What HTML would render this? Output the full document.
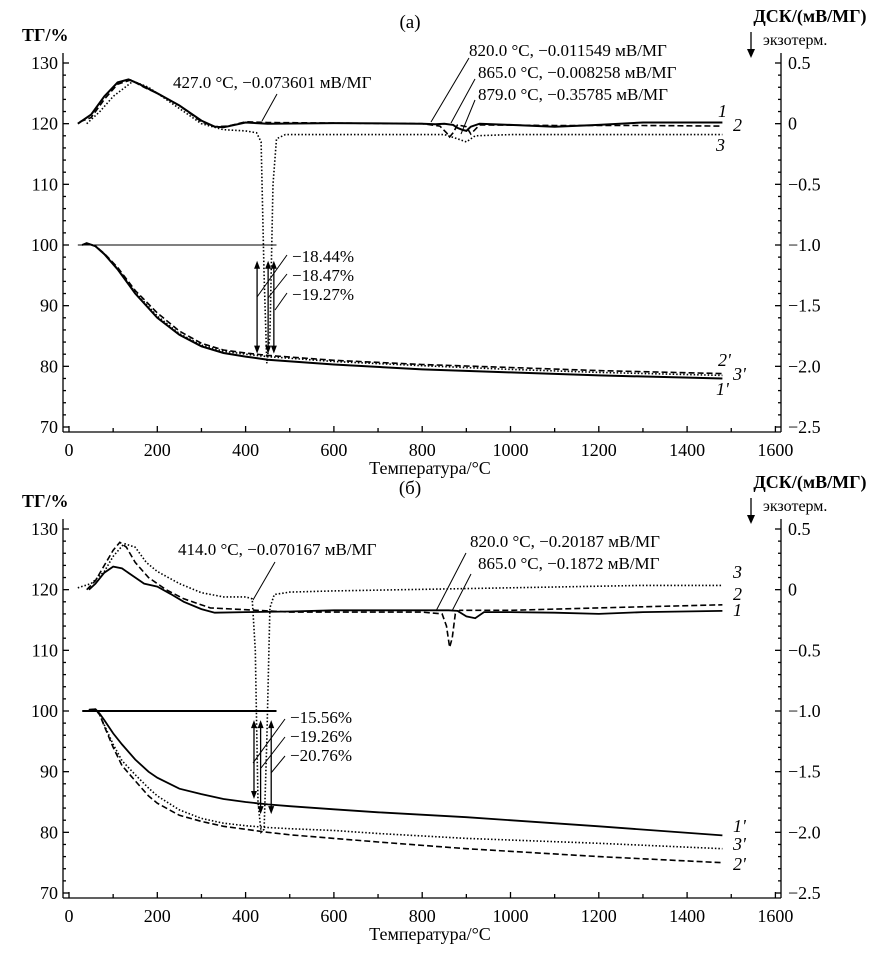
<!DOCTYPE html>
<html><head><meta charset="utf-8">
<style>
html,body{margin:0;padding:0;background:#fff;}
svg{display:block;font-family:"Liberation Serif",serif;}
text{fill:#000;}
</style></head>
<body>
<svg id="chart" width="884" height="965" viewBox="0 0 884 965" xmlns="http://www.w3.org/2000/svg"></svg>
<script>
// ---------- data: panel (a) ----------
const xTicks = [0,200,400,600,800,1000,1200,1400,1600];
const tgTicks = [70,80,90,100,110,120,130];
const dscTicks = [0.5,0,-0.5,-1.0,-1.5,-2.0,-2.5];
const dscTickLabels = ["0.5","0","\u22120.5","\u22121.0","\u22121.5","\u22122.0","\u22122.5"];

const aDsc1T = [20,50,80,110,135,160,200,250,300,330,350,400,450,600,800,830,850,870,880,890,900,910,930,1000,1100,1200,1300,1480];
const aDsc1V = [0,0.075,0.225,0.34,0.365,0.325,0.25,0.15,0.025,-0.025,-0.03,0.01,0,0.005,0,-0.005,0,-0.01,-0.035,-0.05,-0.06,-0.025,0,-0.01,-0.025,-0.01,0.01,0.01];
const aDsc2T = [25,50,80,110,140,170,200,250,300,330,360,400,450,600,800,840,855,862,870,880,900,910,930,1100,1300,1480];
const aDsc2V = [0.015,0.05,0.2,0.325,0.36,0.3,0.25,0.15,0.015,-0.025,-0.02,0.015,0.01,0.005,0,-0.02,-0.075,-0.11,-0.075,-0.01,-0.025,-0.085,-0.01,-0.015,-0.015,-0.02];
const aDsc3T = [40,70,100,145,180,250,300,350,400,425,435,442,448,455,462,470,490,600,850,880,900,920,1000,1480];
const aDsc3V = [0,0.1,0.225,0.35,0.3,0.125,0,-0.05,-0.06,-0.075,-0.15,-1.25,-1.975,-1.75,-0.5,-0.125,-0.09,-0.09,-0.09,-0.125,-0.15,-0.1,-0.09,-0.09];
const aTgT = [30,40,60,80,110,150,200,250,300,350,400,450,600,800,1000,1200,1480];
const aTg1V = [100,100.3,99.8,98.5,96,92,88,85.2,83.3,82.2,81.6,81.1,80.3,79.5,79,78.5,78];
const aTg2V = [100,100.3,99.8,98.6,96.3,92.5,88.8,85.8,83.8,82.7,82.2,81.8,81,80.3,79.8,79.3,78.8];
const aTg3V = [100,100.3,99.8,98.5,96.1,92.2,88.3,85.4,83.5,82.5,82,81.6,80.8,80.1,79.5,79,78.5];
const aArrowT = [426,451,464];
const aArrowTop = [97.4,97.4,97.4];
const aArrowBot = [82.1,82.1,82.1];

// ---------- data: panel (b) ----------
const bDsc1T = [45,60,80,100,120,150,170,200,230,260,300,330,400,500,600,800,860,880,900,920,940,1000,1100,1200,1300,1480];
const bDsc1V = [0,0.05,0.14,0.19,0.175,0.1,0.05,0.025,-0.035,-0.1,-0.16,-0.19,-0.185,-0.18,-0.17,-0.17,-0.17,-0.175,-0.22,-0.235,-0.185,-0.185,-0.19,-0.2,-0.185,-0.175];
const bDsc2T = [40,60,80,100,115,130,150,180,220,260,320,400,500,800,845,855,862,868,875,885,1000,1200,1480];
const bDsc2V = [0,0.075,0.2,0.325,0.39,0.35,0.225,0.1,0,-0.075,-0.15,-0.165,-0.185,-0.185,-0.2,-0.3,-0.475,-0.4,-0.2,-0.17,-0.17,-0.15,-0.125];
const bDsc3T = [20,50,80,100,125,150,175,200,250,300,350,400,415,422,428,435,442,448,455,465,500,600,1000,1300,1480];
const bDsc3V = [0.015,0.05,0.15,0.275,0.38,0.35,0.225,0.15,0.05,-0.025,-0.06,-0.06,-0.075,-0.5,-1.75,-2,-1.975,-1.25,-0.15,-0.04,-0.02,-0.01,0.015,0.035,0.035];
const bTgT = [45,60,70,80,100,120,150,180,200,250,300,350,400,450,500,600,700,900,1200,1480];
const bTg1V = [100.2,100.3,99.5,98.5,96.3,94.5,92,90,89,87.2,86.3,85.5,85,84.6,84.3,83.8,83.3,82.5,81,79.5];
const bTg2V = [100.2,100.3,99.3,97.5,94,91,88.5,86,84.8,82.8,81.8,81,80.5,80,79.6,79,78.4,77.3,76,75];
const bTg3V = [100.2,100.3,99.3,97.7,94.5,91.8,89.5,87.3,86,83.7,82.3,81.5,81.1,80.8,80.6,80.3,79.8,79,78.2,77.3];
const bArrowT = [419,434,458];
const bArrowTop = [98.5,98.5,98.5];
const bArrowBot = [85.5,83,83];

const NS = "http://www.w3.org/2000/svg";
const svg = document.getElementById('chart');
function mk(tag, attrs, parent, txt){
  const e = document.createElementNS(NS, tag);
  for (const k in attrs) e.setAttribute(k, attrs[k]);
  if (txt !== undefined) e.textContent = txt;
  (parent||svg).appendChild(e);
  return e;
}
const X0 = 69, XS = (775.4-69)/1600;
function xs(t){ return X0 + t*XS; }
function ytg(v, off){ return 63 + (130 - v)*(364/60) + off; }
function ydsc(d, off){ return ytg(120 + 20*d, off); }

function pathFrom(T, V, yf, off){
  return T.map((t,i)=>(i?'L':'M')+xs(t).toFixed(1)+','+yf(V[i],off).toFixed(1)).join(' ');
}

function drawPanel(off, P){
  const g = mk('g', {});
  
  
  const ax = mk('g', {stroke:'#000','stroke-width':1.3,fill:'none'}, g);
  
  
  const yTop = 53+off, yBot = 432+off, xL = 63, xR = 781;
  mk('line',{x1:xL,y1:yTop,x2:xL,y2:yBot},ax);
  mk('line',{x1:xL,y1:yBot,x2:xR,y2:yBot},ax);
  mk('line',{x1:xR,y1:yTop,x2:xR,y2:yBot},ax);
  for (let t=0;t<=1600;t+=100){
    const major = t%200===0;
    mk('line',{x1:xs(t),y1:yBot,x2:xs(t),y2:yBot-(major?6:4)},ax);
  }
  xTicks.forEach(t=>{
    const e = mk('text',{x:xs(t),y:yBot+24,'text-anchor':'middle','font-size':18},g,String(t));
    
    
  });
  for (let v=70; v<=130; v+=2){
    const major = v%10===0;
    mk('line',{x1:xL,y1:ytg(v,off),x2:xL+(major?6:3),y2:ytg(v,off)},ax);
  }
  tgTicks.forEach(v=>{
    const e = mk('text',{x:58,y:ytg(v,off)+6,'text-anchor':'end','font-size':18},g,String(v));
    
    
  });
  for (let i=-25;i<=5;i++){
    const d=i/10, major = i%5===0;
    mk('line',{x1:xR,y1:ydsc(d,off),x2:xR-(major?6:3),y2:ydsc(d,off)},ax);
  }
  dscTicks.forEach((d,i)=>{
    const e = mk('text',{x:788,y:ydsc(d,off)+6,'font-size':18},g,dscTickLabels[i]);
    
    
  });
  let e = mk('text',{x:22,y:41+off,'font-size':18,'font-weight':'bold'},g,'ТГ/%');
   
  e = mk('text',{x:410,y:28+off,'text-anchor':'middle','font-size':19},g,P.tag);
   
  e = mk('text',{x:810,y:22+off,'text-anchor':'middle','font-size':18,'font-weight':'bold'},g,'ДСК/(мВ/МГ)');
   
  e = mk('text',{x:763,y:45+off,'font-size':16},g,'экзотерм.');
   
  const arr = mk('g',{},g);
  
  
  mk('line',{x1:751,y1:32+off,x2:751,y2:50+off,stroke:'#000','stroke-width':1.3},arr);
  mk('path',{d:`M747,${49+off} L755,${49+off} L751,${58+off} Z`,fill:'#000'},arr);
  e = mk('text',{x:430,y:yBot+42,'text-anchor':'middle','font-size':18},g,'Температура/°C');
   

  const styles = {solid:'none', dash:'6,3', dot:'1.5,2'};
  P.series.forEach(s=>{
    const p = mk('path',{d:pathFrom(s.T,s.V,s.dsc?ydsc:ytg,off),fill:'none',stroke:'#000','stroke-width':s.w||1.6,'stroke-dasharray':styles[s.st]},g);
    
    
  });
  const bl = mk('line',{x1:xs(P.baseFrom),y1:ytg(100,off),x2:xs(470),y2:ytg(100,off),stroke:'#000','stroke-width':P.baseW},g);
  
  
  P.arrT.forEach((t,i)=>{
    const x = xs(t), y1 = ytg(P.arrTop[i],off), y2 = ytg(P.arrBot[i],off);
    const a = mk('g',{},g);
    
    
    mk('line',{x1:x,y1:y1+6,x2:x,y2:y2-6,stroke:'#000','stroke-width':1.3},a);
    mk('path',{d:`M${x-3},${y1+8} L${x+3},${y1+8} L${x},${y1} Z`,fill:'#000'},a);
    mk('path',{d:`M${x-3},${y2-8} L${x+3},${y2-8} L${x},${y2} Z`,fill:'#000'},a);
  });
  P.notes.forEach(n=>{
    const t = mk('text',{x:n.x,y:n.y+off,'font-size':17},g,n.t);
    
    
  });
  P.leaders.forEach(l=>{
    mk('line',{x1:l[0],y1:l[1]+off,x2:l[2],y2:l[3]+off,stroke:'#000','stroke-width':1},g);
  });
  P.curveLabels.forEach(c=>{
    const t = mk('text',{x:c[0],y:c[1]+off,'font-size':18,'font-style':'italic'},g,c[2]);
    
    
  });
}

drawPanel(0, {
  name:'panel-a', tag:'(а)', baseFrom:20, baseW:1,
  series:[
    {T:aDsc1T,V:aDsc1V,dsc:true,st:'solid',name:'dsc-curve-1',w:2},
    {T:aDsc2T,V:aDsc2V,dsc:true,st:'dash',name:'dsc-curve-2'},
    {T:aDsc3T,V:aDsc3V,dsc:true,st:'dot',name:'dsc-curve-3'},
    {T:aTgT,V:aTg1V,st:'solid',name:'tg-curve-1',w:2},
    {T:aTgT,V:aTg2V,st:'dash',name:'tg-curve-2'},
    {T:aTgT,V:aTg3V,st:'dot',name:'tg-curve-3'}
  ],
  arrT:aArrowT, arrTop:aArrowTop, arrBot:aArrowBot,
  notes:[
    {x:173,y:88,t:'427.0 °C, \u22120.073601 мВ/МГ'},
    {x:469,y:56,t:'820.0 °C, \u22120.011549 мВ/МГ'},
    {x:478,y:78,t:'865.0 °C, \u22120.008258 мВ/МГ'},
    {x:478,y:100,t:'879.0 °C, \u22120.35785 мВ/МГ'},
    {x:292,y:262,t:'\u221218.44%'},
    {x:292,y:281,t:'\u221218.47%'},
    {x:292,y:300,t:'\u221219.27%'}
  ],
  leaders:[[262,121,277,94],[431,122,469,58],[451,123,475,79],[461,134,475,100],
           [257,297,287,255],[268,298,287,274],[275,310,287,293]],
  curveLabels:[[718,117,'1'],[733,131,'2'],[716,151,'3'],[718,366,"2'"],[733,380,"3'"],[716,395,"1'"]]
});

drawPanel(466, {
  name:'panel-b', tag:'(б)', baseFrom:30, baseW:2,
  series:[
    {T:bDsc1T,V:bDsc1V,dsc:true,st:'solid',name:'dsc-curve-1',w:1.8},
    {T:bDsc2T,V:bDsc2V,dsc:true,st:'dash',name:'dsc-curve-2'},
    {T:bDsc3T,V:bDsc3V,dsc:true,st:'dot',name:'dsc-curve-3'},
    {T:bTgT,V:bTg1V,st:'solid',name:'tg-curve-1',w:1.8},
    {T:bTgT,V:bTg2V,st:'dash',name:'tg-curve-2'},
    {T:bTgT,V:bTg3V,st:'dot',name:'tg-curve-3'}
  ],
  arrT:bArrowT, arrTop:bArrowTop, arrBot:bArrowBot,
  notes:[
    {x:178,y:89,t:'414.0 °C, \u22120.070167 мВ/МГ'},
    {x:470,y:81,t:'820.0 °C, \u22120.20187 мВ/МГ'},
    {x:478,y:103,t:'865.0 °C, \u22120.1872 мВ/МГ'},
    {x:290,y:257,t:'\u221215.56%'},
    {x:290,y:276,t:'\u221219.26%'},
    {x:290,y:295,t:'\u221220.76%'}
  ],
  leaders:[[253,134,275,96],[436,145,466,87],[452,145,471,108],
           [253,297,285,253],[261,302,285,271],[271,307,285,290]],
  curveLabels:[[733,112,'3'],[733,134,'2'],[733,150,'1'],[733,366,"1'"],[733,384,"3'"],[733,404,"2'"]]
});
</script>
</body></html>
